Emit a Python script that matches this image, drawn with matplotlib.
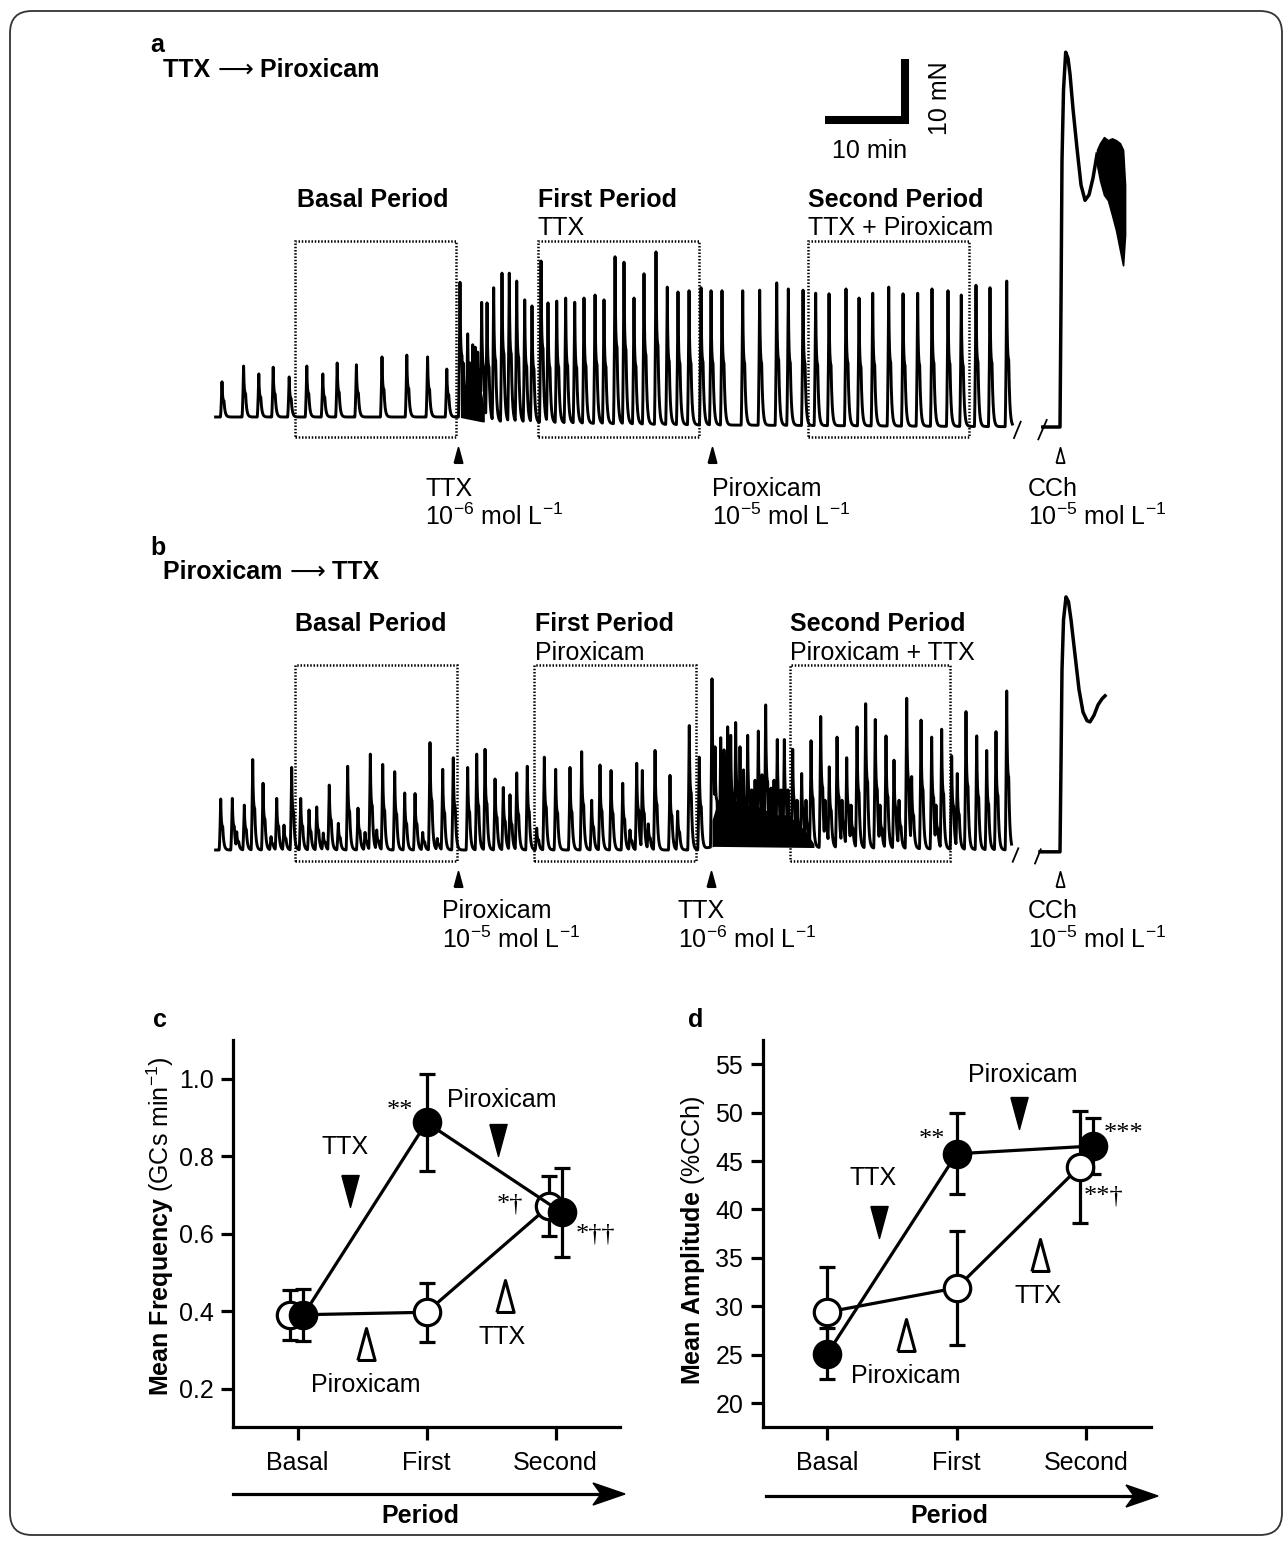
import numpy as np
import matplotlib
matplotlib.use('Agg')
import matplotlib.pyplot as plt
from matplotlib.patches import FancyBboxPatch, Rectangle, Polygon

plt.rcParams['font.family'] = ['Liberation Sans', 'DejaVu Sans']
plt.rcParams['mathtext.fontset'] = 'custom'
plt.rcParams['mathtext.rm'] = 'Liberation Sans'
plt.rcParams['mathtext.bf'] = 'Liberation Sans:bold'
plt.rcParams['mathtext.it'] = 'Liberation Sans:italic'

# ---------------------------------------------------------------- data
# Panel a (TTX -> Piroxicam): contraction peaks, time (min) and peak force (mN)
a_peak_t = [0.5, 3.2, 5.1, 6.9, 8.9, 11.1, 13.1, 14.9, 17.3, 20.5, 23.6, 26.2, 28.6,
            30.25, 30.66, 31.21, 31.5, 31.84, 32.16, 32.46, 32.75, 32.96, 33.63, 34.46,
            35.5, 36.41, 37.34, 38.34, 39.25, 40.38, 41.25, 42.34, 43.46, 44.59, 45.75,
            47.13, 48.25, 49.63, 50.75, 52.0, 53.25, 54.75, 56.16, 57.5, 58.88, 60.38,
            61.63, 63.0, 65.59, 67.71, 69.84, 71.29, 73.13, 74.71, 76.38, 78.5, 80.13,
            81.84, 83.84, 85.63, 87.46, 89.25, 91.25, 92.91, 94.75, 96.5, 98.59]
a_peak_f = [5.8, 8.4, 7.1, 8.2, 6.6, 8.4, 7.1, 8.9, 8.6, 9.9, 10.2, 9.9, 7.9,
            22.2, 8.9, 13.7, 8.9, 11.9, 11.5, 10.7, 7.7, 18.9, 18.8, 21.3,
            23.7, 23.7, 22.4, 19.3, 18.3, 25.7, 18.8, 19.1, 19.6, 18.9, 19.6,
            20.1, 19.3, 26.4, 25.5, 19.6, 23.6, 27.2, 21.4, 20.6, 20.8, 21.3,
            20.8, 20.8, 20.8, 20.9, 22.1, 21.1, 20.9, 20.4, 20.3, 21.1, 19.6,
            20.4, 21.4, 20.3, 20.4, 21.1, 20.8, 20.1, 21.7, 21.3, 22.4]
a_base_t = [0, 30, 33, 60, 99.3]
a_base_f = [0, 0, -0.8, -1.3, -1.6]
a_end_t = 99.3
# dense high-frequency activity right after TTX (upper edge of the black mass)
a_dense_t = [30.3, 30.9, 31.5, 32.1, 32.75, 33.3]
a_dense_f = [6.1, 8.1, 8.6, 7.7, 5.3, 1.5]
# CCh response (panel a)
a_cch_t = [103.1, 105.25, 105.38, 105.5, 105.69, 105.96, 106.25, 106.5, 106.88, 107.38,
           107.88, 108.38, 108.88, 109.38, 109.88]
a_cch_f = [-1.65, -1.65, 19.4, 42.3, 53.9, 60.1, 59.1, 56.5, 50.7, 44.2,
           38.2, 35.7, 36.6, 39.4, 43.3]
a_noise_t = [109.88, 110.25, 110.75, 111.25, 111.75, 112.25, 112.75, 113.13, 113.38]
a_noise_hi = [44.0, 45.1, 46.1, 45.6, 45.9, 45.6, 45.1, 44.0, 38.2]
a_noise_lo = [41.5, 39.0, 36.6, 35.7, 33.3, 30.8, 27.5, 25.0, 30.0]

# Panel b (Piroxicam -> TTX)
b_peak_t = [0.34, 1.79, 2.34, 3.29, 4.34, 5.63, 6.63, 7.34, 8.25, 9.21, 10.34, 11.38,
            12.34, 13.16, 13.91, 15.04, 16.21, 17.5, 18.38, 19.04, 19.84, 20.59, 22.09,
            23.34, 24.63, 25.59, 26.5, 27.41, 28.09, 29.41,
            31.21, 32.34, 33.38, 34.63, 35.66, 36.5, 37.34, 38.66, 39.84, 40.79, 42.21,
            44.0, 45.46, 46.71, 47.75, 49.13, 50.59, 51.5, 52.34, 53.04, 53.79, 54.63,
            56.5, 57.46, 58.91, 60.16,
            61.75, 62.13, 62.84, 63.25, 63.71, 64.09, 64.71, 65.25, 65.69, 66.21, 66.71,
            67.13, 67.54, 68.0, 68.46, 69.13, 69.5, 69.91, 70.38, 70.79, 71.25, 71.84,
            72.38, 72.96, 73.5, 74.13, 75.34, 75.88, 76.41, 77.38, 78.0, 78.59, 79.13,
            79.88, 80.96, 82.16, 82.75, 83.5, 84.5, 85.13, 86.09, 86.71, 87.88, 89.21,
            89.75, 90.46, 91.71, 92.41, 93.5, 94.84, 96.09, 97.25, 98.59]
b_peak_f = [8.4, 8.5, 3.0, 7.4, 14.9, 11.0, 2.2, 8.5, 4.1, 13.6, 8.5, 6.6,
            7.1, 2.8, 10.7, 4.4, 13.8, 6.9, 2.9, 15.8, 3.3, 14.1, 12.9,
            9.4, 9.3, 2.9, 17.7, 1.9, 13.3, 15.2,
            13.6, 15.8, 16.6, 11.7, 10.3, 9.1, 12.7, 13.8, 3.6, 15.3, 13.3,
            13.6, 16.2, 8.2, 14.0, 13.1, 11.0, 3.3, 14.3, 13.1, 4.3, 16.4,
            12.3, 6.4, 20.5, 15.3,
            28.2, 17.0, 18.5, 16.5, 20.3, 18.9, 21.0, 17.0, 13.2, 18.9, 9.9,
            11.5, 19.6, 12.4, 23.9, 10.2, 11.5, 18.2, 9.9, 18.2, 9.9, 16.6,
            8.2, 12.6, 8.2, 18.0, 22.0, 8.2, 13.7, 18.6, 8.2, 15.2, 7.4,
            20.3, 24.1, 21.5, 7.4, 18.8, 14.8, 8.2, 25.0, 12.1, 21.4, 18.6,
            7.4, 19.9, 15.5, 12.6, 22.8, 18.8, 16.4, 19.5, 26.2]
b_base_t = [0, 60, 62, 75, 99.2]
b_base_f = [0, 0, 0.6, 0.4, 0]
b_end_t = 99.2
b_dense_t = [61.75, 62.5, 63.38, 64.63, 65.88, 67.13, 68.38, 69.63, 70.88, 72.13, 73.5, 74.5]
b_dense_f = [4.9, 8.2, 9.1, 8.2, 7.4, 7.4, 6.6, 5.8, 5.8, 4.9, 3.0, 1.0]
b_cch_t = [102.75, 105.25, 105.38, 105.5, 105.69, 106.0, 106.31, 106.63, 107.13, 107.63,
           108.13, 108.63, 109.0, 109.5, 110.0, 110.5, 110.88]
b_cch_f = [-0.3, -0.3, 14.8, 29.7, 37.9, 41.7, 40.9, 37.9, 32.1, 26.4,
           22.7, 21.3, 21.1, 22.2, 23.9, 24.9, 25.4]

# analysis periods (min) and drug additions (min)
a_periods = [(9.63, 29.75), (40.0, 60.13), (73.71, 93.84)]
b_periods = [(9.63, 29.84), (39.54, 59.75), (71.5, 91.5)]
a_drug_t = [30.0, 61.75, 105.25]
b_drug_t = [30.0, 61.63, 105.25]

# Panels c, d: mean +/- SEM
periods = ['Basal', 'First', 'Second']
freq_ttx_pir = [0.39, 0.887, 0.655]      # filled: TTX -> Piroxicam
freq_ttx_pir_sem = [0.068, 0.126, 0.115]
freq_pir_ttx = [0.39, 0.397, 0.672]      # open: Piroxicam -> TTX
freq_pir_ttx_sem = [0.064, 0.076, 0.078]
amp_ttx_pir = [25.1, 45.75, 46.55]
amp_ttx_pir_sem = [2.65, 4.2, 2.85]
amp_pir_ttx = [29.4, 31.9, 44.4]
amp_pir_ttx_sem = [4.7, 5.85, 5.75]

# ---------------------------------------------------------------- figure
W, H = 1287, 1543
fig = plt.figure(figsize=(W / 100, H / 100), dpi=100)
FS = 18

bg = fig.add_axes([0, 0, 1, 1])
bg.set_xlim(0, W)
bg.set_ylim(H, 0)
bg.axis('off')
bg.add_patch(FancyBboxPatch((10, 11), 1272, 1524, boxstyle='round,pad=0,rounding_size=22',
                            fill=False, lw=1.3, ec='#333333'))

def add_ax(l, t, r, b):
    return fig.add_axes([l / W, 1 - b / H, (r - l) / W, (b - t) / H])

PXMIN, PXMN, T0PX = 8.0, 6.07, 218

def spikes(t, pt, pf, bt, bf):
    base = np.interp(t, bt, bf)
    y = base.copy()
    for t0, f0 in zip(pt, pf):
        amp = f0 - np.interp(t0, bt, bf)
        dt = t - t0
        s = np.zeros_like(t)
        r = (dt >= -0.2) & (dt < 0)
        s[r] = (1 + dt[r] / 0.2) ** 1.5
        d = dt >= 0
        dd = dt[d]
        sh = np.where(dd < 0.25, 1.0, np.exp(-(dd - 0.25) / 0.14))
        s[d] = 0.55 * np.exp(-dd / 0.06) + 0.45 * sh
        y = np.maximum(y, base + amp * s)
    return y

tri_up = [(-0.27, -0.5), (0.27, -0.5), (0, 0.5), (-0.27, -0.5)]
tri_dn = [(-0.27, 0.5), (0.27, 0.5), (0, -0.5), (-0.27, 0.5)]

def trace_panel(ax, pt, pf, bt, bf, t_end, cch_t, cch_f, periods_, drug_t, base_px, top_px, bot_px,
                breaks, box, ymark, dense_t, dense_f):
    ax.set_xlim((200 - T0PX) / PXMIN, (1180 - T0PX) / PXMIN)
    ax.set_ylim((base_px - bot_px) / PXMN, (base_px - top_px) / PXMN)
    ax.axis('off')
    t = np.arange(-0.3, t_end, 0.01)
    y = spikes(t, pt, pf, bt, bf)
    ax.plot(t, y, color='black', lw=2.1, solid_joinstyle='round')
    # dense high-frequency activity: black mass bounded by the trace itself
    m = (t >= dense_t[0]) & (t <= dense_t[-1])
    env = np.interp(t[m], dense_t, dense_f)
    base = np.interp(t[m], bt, bf)
    ax.fill_between(t[m], base, np.minimum(y[m], env), color='black', lw=0)
    ax.plot(cch_t, cch_f, color='black', lw=2.5, solid_joinstyle='round')
    for (x1, y1, x2, y2) in breaks:
        ax.plot([x1, x2], [y1, y2], color='black', lw=1.3)
    for (p1, p2) in periods_:
        ax.add_patch(Rectangle((p1, box[0]), p2 - p1, box[1] - box[0], fill=False, lw=1.8,
                               ls=(0, (0.6, 0.7)), ec='black'))
    for i, dt_ in enumerate(drug_t):
        open_ = i == 2
        ax.plot([dt_], [ymark], marker=tri_up, ms=11, mfc='white' if open_ else 'black',
                mec='black', mew=1.3, clip_on=False, ls='none')

# panel a
ax_a = add_ax(200, 30, 1180, 460)
trace_panel(ax_a, a_peak_t, a_peak_f, a_base_t, a_base_f, a_end_t, a_cch_t, a_cch_f,
            a_periods, a_drug_t, 417, 30, 460,
            [(99.5, -3.46, 100.34, -0.77), (102.54, -3.68, 103.59, -0.49)],
            ((417 - 437) / PXMN, (417 - 241) / PXMN), (417 - 455) / PXMN,
            a_dense_t, a_dense_f)
ax_a.fill_between(a_noise_t, a_noise_lo, a_noise_hi, color='black', lw=1.2, ec='black')
# scale bar 10 min x 10 mN
sb_x, sb_y = 85.9, 48.9
ax_a.plot([sb_x - 10, sb_x, sb_x], [sb_y, sb_y, sb_y + 10], color='black', lw=5.8,
          solid_joinstyle='miter', solid_capstyle='butt')

# panel b
ax_b = add_ax(200, 580, 1180, 890)
trace_panel(ax_b, b_peak_t, b_peak_f, b_base_t, b_base_f, b_end_t, b_cch_t, b_cch_f,
            b_periods, b_drug_t, 850, 580, 890,
            [(99.34, -1.94, 100.04, 0.28), (102.13, -2.22, 102.84, 0.11)],
            ((850 - 861) / PXMN, (850 - 665) / PXMN), (850 - 879) / PXMN,
            b_dense_t, b_dense_f)

def T(x, y, s, **kw):
    kw.setdefault('fontsize', FS)
    kw.setdefault('va', 'baseline')
    return bg.text(x, y, s, **kw)

renderer = fig.canvas.get_renderer()

def chain(x, y, parts, fs):
    """Place consecutive text pieces (left aligned) on one baseline."""
    inv = bg.transData.inverted()
    for s, kw in parts:
        t = T(x, y, s, fontsize=fs, **kw)
        bb = t.get_window_extent(renderer)
        x = inv.transform((bb.x1, bb.y0))[0]

conc6 = r'10$^{\mathregular{-6}}$ mol L$^{\mathregular{-1}}$'
conc5 = r'10$^{\mathregular{-5}}$ mol L$^{\mathregular{-1}}$'
arrow_kw = dict(family=['DejaVu Sans'], fontweight='normal')

# panel a texts
T(150, 52, 'a', fontweight='bold', fontsize=18)
chain(163, 77, [('TTX ', dict(fontweight='bold')), ('⟶', arrow_kw),
                (' Piroxicam', dict(fontweight='bold'))], 18)
T(373, 207, 'Basal Period', fontweight='bold', ha='center')
T(538, 207, 'First Period', fontweight='bold')
T(538, 235, 'TTX')
T(808, 207, 'Second Period', fontweight='bold')
T(808, 235, 'TTX + Piroxicam')
T(425, 496, 'TTX'); T(425, 525, conc6)
T(712, 496, 'Piroxicam'); T(712, 525, conc5)
T(1028, 496, 'CCh'); T(1028, 525, conc5)
T(870, 158, '10 min', ha='center')
T(940, 98, '10 mN', rotation=90, ha='center', va='center')

# panel b texts
T(150, 555, 'b', fontweight='bold', fontsize=18)
chain(163, 579, [('Piroxicam ', dict(fontweight='bold')), ('⟶', arrow_kw),
                 (' TTX', dict(fontweight='bold'))], 18)
T(371, 631, 'Basal Period', fontweight='bold', ha='center')
T(535, 631, 'First Period', fontweight='bold')
T(535, 660, 'Piroxicam')
T(790, 631, 'Second Period', fontweight='bold')
T(790, 660, 'Piroxicam + TTX')
T(442, 918, 'Piroxicam'); T(442, 948, conc5)
T(678, 918, 'TTX'); T(678, 948, conc6)
T(1028, 918, 'CCh'); T(1028, 948, conc5)

# ---------------------------------------------------------------- panels c, d
def summary_panel(ax, ylim, yticks, ytl):
    ax.set_xlim(-0.5, 2.5)
    ax.set_ylim(*ylim)
    for s in ['top', 'right']:
        ax.spines[s].set_visible(False)
    for s in ['left', 'bottom']:
        ax.spines[s].set_linewidth(2.3)
    ax.set_xticks(range(3))
    ax.set_xticklabels(periods)
    ax.set_yticks(yticks)
    ax.set_yticklabels(ytl)
    ax.tick_params(axis='both', width=2.3, length=9, labelsize=FS, direction='out')
    ax.tick_params(axis='x', pad=8)
    ax.tick_params(axis='y', pad=5)
    ax.patch.set_visible(False)

def series(ax, xoff, mean, sem, filled, z):
    x = np.arange(3) + np.array(xoff)
    ax.errorbar(x, mean, yerr=sem, fmt='-o', color='black', lw=2.3, ms=19,
                mfc='black' if filled else 'white', mec='black', mew=2.3,
                ecolor='black', elinewidth=2.3, capsize=6, capthick=2.3, zorder=z,
                clip_on=False)

serif = ['Liberation Serif', 'DejaVu Serif']
open_tri = dict(marker=tri_up, ms=23, mfc='white', mec='black', mew=2.2, ls='none')
fill_tri = dict(marker=tri_dn, ms=23, color='black', ls='none')

ax_c = add_ax(233, 1040, 620, 1427.3)
summary_panel(ax_c, (0.1, 1.1), [0.2, 0.4, 0.6, 0.8, 1.0], ['0.2', '0.4', '0.6', '0.8', '1.0'])
series(ax_c, [-0.06, 0, -0.047], freq_pir_ttx, freq_pir_ttx_sem, False, 3)
series(ax_c, [0.046, 0, 0.047], freq_ttx_pir, freq_ttx_pir_sem, True, 4)
ax_c.plot([1.558], [0.842], **fill_tri)
ax_c.plot([0.406], [0.71], **fill_tri)
ax_c.plot([1.605], [0.44], **open_tri)
ax_c.plot([0.534], [0.314], **open_tri)
ax_c.text(1.16, 0.927, 'Piroxicam', fontsize=FS, va='baseline')
ax_c.text(0.371, 0.805, 'TTX', fontsize=FS, va='baseline', ha='center')
ax_c.text(1.589, 0.314, 'TTX', fontsize=FS, va='baseline', ha='center')
ax_c.text(0.526, 0.19, 'Piroxicam', fontsize=FS, va='baseline', ha='center')
ax_c.text(0.793, 0.901, '**', fontsize=19, va='baseline', ha='center', family=serif)
ax_c.text(1.647, 0.66, '*†', fontsize=19, va='baseline', ha='center', family=serif)
ax_c.text(2.312, 0.582, '*††', fontsize=19, va='baseline', ha='center', family=serif)

ax_d = add_ax(762.7, 1040, 1150.7, 1427.3)
summary_panel(ax_d, (17.5, 57.5), [20, 25, 30, 35, 40, 45, 50, 55],
              ['20', '25', '30', '35', '40', '45', '50', '55'])
series(ax_d, [0, 0, 0.05], amp_ttx_pir, amp_ttx_pir_sem, True, 3)
series(ax_d, [0, 0, -0.05], amp_pir_ttx, amp_pir_ttx_sem, False, 4)
ax_d.plot([1.48], [50.0], **fill_tri)
ax_d.plot([0.397], [38.7], **fill_tri)
ax_d.plot([1.643], [35.34], **open_tri)
ax_d.plot([0.611], [27.08], **open_tri)
ax_d.text(1.509, 53.21, 'Piroxicam', fontsize=FS, va='baseline', ha='center')
ax_d.text(0.353, 42.57, 'TTX', fontsize=FS, va='baseline', ha='center')
ax_d.text(1.63, 30.35, 'TTX', fontsize=FS, va='baseline', ha='center')
ax_d.text(0.605, 22.12, 'Piroxicam', fontsize=FS, va='baseline', ha='center')
ax_d.text(0.811, 46.6, '**', fontsize=19, va='baseline', ha='center', family=serif)
ax_d.text(2.288, 47.15, '***', fontsize=19, va='baseline', ha='center', family=serif)
ax_d.text(2.137, 40.7, '**†', fontsize=19, va='baseline', ha='center', family=serif)

T(153, 1027, 'c', fontweight='bold', fontsize=18)
T(688, 1027, 'd', fontweight='bold', fontsize=18)
T(160, 1226, r'$\mathbf{Mean\ Frequency}$ (GCs min$^{\mathregular{-1}}$)', rotation=90,
  ha='center', va='center')
T(693, 1240, r'$\mathbf{Mean\ Amplitude}$ (%CCh)', rotation=90, ha='center', va='center')

for (x1, x2, y, xc) in [(233, 625, 1494, 420), (766, 1158, 1496, 949)]:
    bg.plot([x1, x2 - 22], [y, y], color='black', lw=2.3)
    bg.add_patch(Polygon([(x2, y), (x2 - 32, y - 11), (x2 - 24, y), (x2 - 32, y + 11)],
                         closed=True, fc='black', ec='black', lw=1))
    T(xc, 1523, 'Period', fontweight='bold', ha='center')

fig.savefig('out.png', dpi=100)
